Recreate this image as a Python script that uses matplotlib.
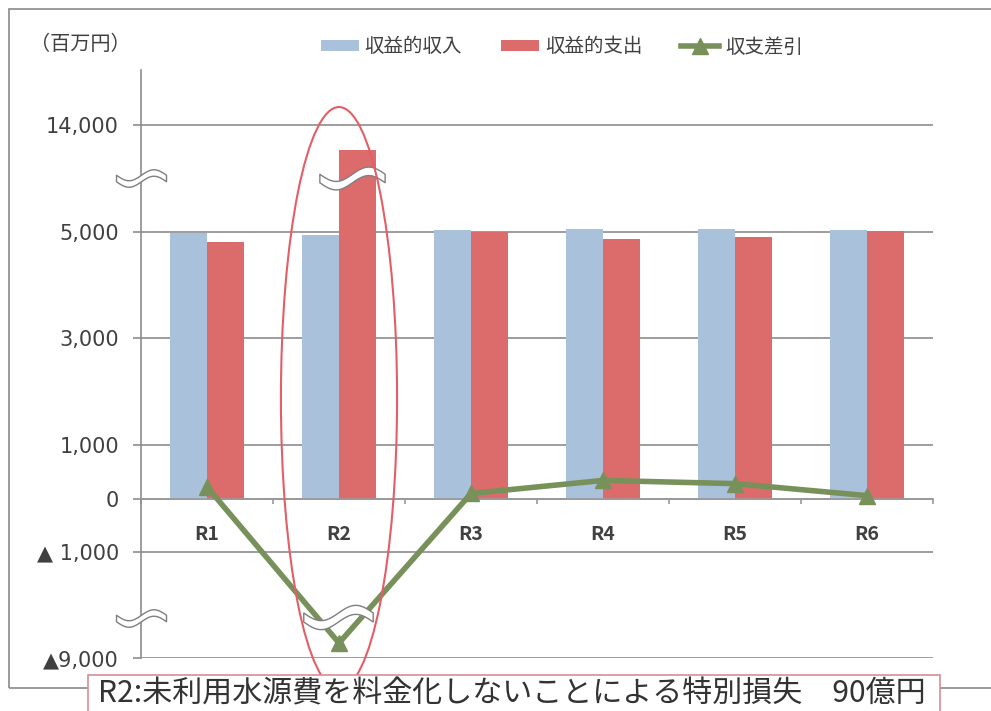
import numpy as np
import matplotlib
matplotlib.use('Agg')
import matplotlib.pyplot as plt
import matplotlib.transforms as mtransforms
from matplotlib.patches import Ellipse, Rectangle
from matplotlib.path import Path

plt.rcParams['font.family'] = ['Noto Sans CJK JP', 'DejaVu Sans']

# data (百万円)
years = ['R1', 'R2', 'R3', 'R4', 'R5', 'R6']
income = [4980, 4930, 5110, 5200, 5200, 5160]       # 収益的収入
expense = [4810, 11900, 5020, 4860, 4910, 5090]     # 収益的支出
balance = [220, -7870, 95, 340, 280, 55]            # 収支差引

tick_values = [-9000, -1000, 0, 1000, 3000, 5000, 14000]
tick_labels = ['▲9,000', '▲ 1,000', '0', '1,000', '3,000', '5,000', '14,000']
note = 'R2:未利用水源費を料金化しないことによる特別損失　90億円'

# broken axis: linear between -1000 and 5000, squeezed outside
brk_vals = [-20000, -9000, -1000, 5000, 14000, 30000]
brk_pos = [-5721, -2988, -1000, 5000, 7006, 10573]


def forward(v):
    return np.interp(v, brk_vals, brk_pos)


def inverse(u):
    return np.interp(u, brk_pos, brk_vals)


c_inc = '#A9C1DA'
c_exp = '#DC6B6B'
c_bal = '#78915A'
c_grid = '#8C8C8C'
c_text = '#404040'

fig = plt.figure(figsize=(9.91, 7.11), dpi=100)
ax = fig.add_axes([141 / 991, 1 - 658 / 711, (933 - 141) / 991, (658 - 70) / 711])
ax.set_yscale('function', functions=(forward, inverse))
ax.set_ylim(-9000, 18600)
ax.set_xlim(-0.5, 5.5)

x = np.arange(len(years))
w = 0.28
b1 = ax.bar(x - w / 2, income, w, color=c_inc, label='収益的収入', zorder=2)
b2 = ax.bar(x + w / 2, expense, w, color=c_exp, label='収益的支出', zorder=2)
ln, = ax.plot(x, balance, color=c_bal, lw=4, marker='^', ms=11, label='収支差引',
              zorder=4, clip_on=False)

# axes styling
for s in ['top', 'right']:
    ax.spines[s].set_visible(False)
ax.spines['left'].set_color(c_grid)
ax.spines['left'].set_linewidth(1.2)
ax.spines['bottom'].set_position(('data', 0))
ax.spines['bottom'].set_color('#9A9A9A')
ax.spines['bottom'].set_linewidth(1.2)

ax.set_yticks(tick_values, tick_labels)
ax.tick_params(axis='y', direction='out', length=5.8, width=1.2, color=c_grid,
               labelsize=15, labelcolor=c_text, pad=10)
for lbl in ax.get_yticklabels():
    lbl.set_family('DejaVu Sans')
ax.yaxis.grid(True, color=c_grid, lw=1.2)
ax.set_axisbelow(True)

ax.set_xticks(x, years)
ax.set_xticks(np.arange(-0.5, 6, 1), minor=True)
ax.tick_params(axis='x', which='major', length=0, pad=19, labelsize=14,
               labelcolor=c_text)
ax.tick_params(axis='x', which='minor', direction='out', length=3.6,
               width=1.2, color='#9A9A9A')
for lbl in ax.get_xticklabels():
    lbl.set_fontweight('bold')

# break symbols
t = np.linspace(-1, 1, 40)
yc = 0.22 * np.sin(np.pi * t)
verts = np.concatenate([np.c_[t, yc + 0.13], np.c_[t[::-1], yc[::-1] - 0.13],
                        [[t[0], yc[0] + 0.13]]])
codes = [Path.MOVETO] + [Path.LINETO] * (len(verts) - 2) + [Path.CLOSEPOLY]
wave = Path(verts, codes)

breaks = [(-0.5, 9540, 36), (-0.5, -5980, 36), (1.1, 9500, 47), (0.99, -5900, 50)]
for bx, by, bs in breaks:
    ax.plot([bx], [by], marker=wave, ms=bs, mfc='white', mec='#7F7F7F',
            mew=1, ls='none', clip_on=False, zorder=6)

# highlight R2
trans = mtransforms.blended_transform_factory(ax.transData, ax.transAxes)
ax.add_patch(Ellipse((1, 0.442), 0.88, 0.99, transform=trans, fill=False,
                     ec='#E35E66', lw=1.5, clip_on=False, zorder=7))

ax.legend(handles=[b1, b2, ln], loc='center',
          bbox_to_anchor=(562 / 991, 1 - 47 / 711),
          bbox_transform=fig.transFigure, ncol=3, frameon=False, fontsize=14,
          handlelength=1.95, handleheight=0.5, handletextpad=0.3,
          columnspacing=2.0, labelcolor=c_text)

fig.text(30 / 991, 1 - 45 / 711, '（百万円）', fontsize=14.5, color=c_text,
         va='center')

# outer frame and note box
fig.add_artist(Rectangle((9 / 991, 1 - 688 / 711), 1.0, (688 - 9) / 711,
                         transform=fig.transFigure, fill=False, ec='#8A8A8A',
                         lw=1.2, zorder=1))
fig.add_artist(Rectangle((88 / 991, -0.01), (940 - 88) / 991,
                         (711 - 675) / 711 + 0.01, transform=fig.transFigure,
                         fc='white', ec='#D98C96', lw=1.2, zorder=8))
fig.text(512 / 991, 1 - 694 / 711, note, ha='center', va='center',
         fontsize=21.6, color='#333333', zorder=9)

fig.savefig('out.png', dpi=100)
